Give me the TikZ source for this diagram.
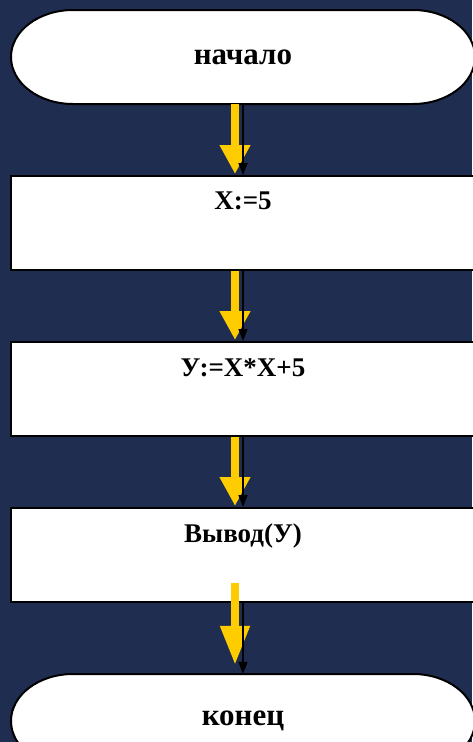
\documentclass[tikz,border=0pt]{standalone}
\usepackage{fontspec}
\setmainfont{Liberation Serif}
\usetikzlibrary{arrows.meta}
\definecolor{navy}{HTML}{1F2D50}
\definecolor{gold}{HTML}{FFCC00}
\tikzset{
  termshape/.style={fill=white,draw=black,line width=2pt},
  termtext/.style={draw=none,minimum width=464pt,minimum height=94pt,inner sep=0pt,font=\fontsize{31}{34}\selectfont\bfseries},
  procbox/.style={fill=white,draw=black,line width=2pt,minimum width=464pt,minimum height=94pt,inner sep=0pt},
  proctext/.style={anchor=base,inner sep=0pt,font=\fontsize{27}{30}\selectfont\bfseries},
  goldarrow/.style={draw=gold,line width=8pt,-{Triangle[width=29pt,length=29pt,fill=gold]}},
  flowline/.style={draw=black,line width=1.5pt,-{Triangle[width=9pt,length=12pt]}}
}
\begin{document}
\begin{tikzpicture}[x=1pt,y=-1pt]
\useasboundingbox (0,0) rectangle (472,742);
\fill[navy] (0,0) rectangle (472,742);
% start terminal
\draw[termshape] (73,10) -- (413,10) arc[start angle=-90,end angle=90,x radius=62,y radius=47] -- (73,104) arc[start angle=90,end angle=270,x radius=62,y radius=47] -- cycle;
\node[termtext] (start) at (243,57) {начало};
% boxes
\node[procbox] (b1) at (243,223) {};
\node[proctext] (t1) at ([yshift=-34pt]b1.north) {X:=5};
\node[procbox] (b2) at (243,389) {};
\node[proctext] (t2) at ([yshift=-35pt]b2.north) {У:=X*X+5};
\node[procbox] (b3) at (243,555) {};
\node[proctext] (t3) at ([yshift=-35pt]b3.north) {Вывод(У)};
% end terminal
\draw[termshape] (73,674) -- (413,674) arc[start angle=-90,end angle=90,x radius=62,y radius=47] -- (73,768) arc[start angle=90,end angle=270,x radius=62,y radius=47] -- cycle;
\node[termtext] (stop) at (243,721) {конец};
% gold arrows
\draw[goldarrow] ([xshift=-8pt]start.south) -- ([xshift=-8pt,yshift=1pt]b1.north);
\draw[goldarrow] ([xshift=-8pt]b1.south) -- ([xshift=-8pt,yshift=1pt]b2.north);
\draw[goldarrow] ([xshift=-8pt]b2.south) -- ([xshift=-8pt,yshift=1pt]b3.north);
\draw[goldarrow,-{Triangle[width=28pt,length=39pt,fill=gold]}] ([xshift=-8pt,yshift=20pt]b3.south) -- ([xshift=-8pt,yshift=9pt]stop.north);
% black flow lines
\draw[flowline] (start.south) -- (b1.north);
\draw[flowline] (b1.south) -- (b2.north);
\draw[flowline] (b2.south) -- (b3.north);
\draw[flowline] (b3.south) -- (stop.north);
\end{tikzpicture}
\end{document}
